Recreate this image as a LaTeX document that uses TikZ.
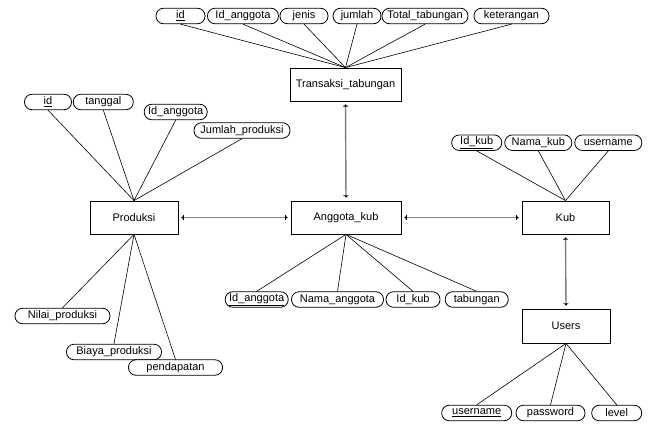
\documentclass[tikz,border=0pt]{standalone}
\usepackage{fontspec}
\setmainfont{Liberation Sans}
\usetikzlibrary{arrows.meta}
\begin{document}
\begin{tikzpicture}[x=1pt,y=-1pt,
  every node/.style={font=\fontsize{11}{13}\selectfont},
  ent/.style={draw=black,line width=0.8pt,minimum height=33pt,inner sep=0pt,fill=white},
  attr/.style={draw=black,line width=0.8pt,rounded corners=7.5pt,minimum height=15.5pt,inner sep=0pt,fill=white},
  aline/.style={draw=black,line width=0.6pt},
  rel/.style={draw=gray,line width=1.4pt,
    {Triangle[length=1.5pt,width=2.5pt,black,sep=3pt] Bar[width=5pt,line width=0.8pt,black]}-{Bar[width=5pt,line width=0.8pt,black] Triangle[length=1.5pt,width=2.5pt,black,sep=3pt]}}
]
\useasboundingbox (0,0) rectangle (650,423);

% entities
\node[ent,minimum width=111pt] (tr) at (345.5,84.5) {Transaksi\_tabungan};
\node[ent,minimum width=88pt] (pr) at (134,217.5) {Produksi};
\node[ent,minimum width=110pt] (ak) at (346,217.5) {Anggota\_kub};
\node[ent,minimum width=87pt] (kb) at (565.5,217.5) {Kub};
\node[ent,minimum width=88pt,minimum height=34pt] (us) at (566,326) {Users};

% relationships
\draw[rel] (tr.south) -- (ak.north);
\draw[rel] (pr.east) -- (ak.west);
\draw[rel] (ak.east) -- (kb.west);
\draw[rel] (kb.south) -- (us.north);

% Transaksi attributes
\node[attr,minimum width=49pt] (t1) at (180.5,16) {\underline{id}};
\node[attr,minimum width=71pt] (t2) at (243,16) {Id\_anggota};
\node[attr,minimum width=48pt] (t3) at (304,16) {jenis};
\node[attr,minimum width=48pt] (t4) at (357,16) {jumlah};
\node[attr,minimum width=86pt] (t5) at (425,16) {Total\_tabungan};
\node[attr,minimum width=75pt] (t6) at (511.5,16) {keterangan};
\foreach \a in {t1,t2,t3,t4,t5,t6} \draw[aline] (\a.south) -- (tr.north);

% Produksi attributes
\node[attr,minimum width=47pt] (p1) at (48,102) {\underline{id}};
\node[attr,minimum width=60pt] (p2) at (103.3,102) {tanggal};
\node[attr,minimum width=63pt] (p3) at (175.7,112) {Id\_anggota};
\node[attr,minimum width=96pt] (p4) at (242,130.5) {Jumlah\_produksi};
\foreach \a in {p1,p2,p3,p4} \draw[aline] (\a.south) -- (pr.north);
\node[attr,minimum width=95pt] (p5) at (62.5,316) {Nilai\_produksi};
\node[attr,minimum width=95pt] (p6) at (114,352) {Biaya\_produksi};
\node[attr,minimum width=94pt] (p7) at (175.5,367.5) {pendapatan};
\foreach \a in {p5,p6,p7} \draw[aline] (\a.north) -- (pr.south);

% Anggota_kub attributes
\node[attr,minimum width=63pt] (a1) at (256.7,299.5) {\underline{Id\_anggota}};
\node[attr,minimum width=92pt] (a2) at (337.5,299.5) {Nama\_anggota};
\node[attr,minimum width=54pt] (a3) at (413,299.5) {Id\_kub};
\node[attr,minimum width=63pt] (a4) at (476.7,299.5) {tabungan};
\foreach \a in {a1,a2,a3,a4} \draw[aline] (\a.north) -- (ak.south);

% Kub attributes
\node[attr,minimum width=50pt] (k1) at (476.7,142.7) {\underline{Id\_kub}};
\node[attr,minimum width=67pt] (k2) at (538.3,142.7) {Nama\_kub};
\node[attr,minimum width=67pt] (k3) at (608.3,142.7) {username};
\foreach \a in {k1,k2,k3} \draw[aline] (\a.south) -- (kb.north);

% Users attributes
\node[attr,minimum width=70pt] (u1) at (476.7,413) {\underline{username}};
\node[attr,minimum width=69pt] (u2) at (550.5,413) {password};
\node[attr,minimum width=50pt] (u3) at (616.7,413) {level};
\foreach \a in {u1,u2,u3} \draw[aline] (\a.north) -- (us.south);
\end{tikzpicture}
\end{document}
